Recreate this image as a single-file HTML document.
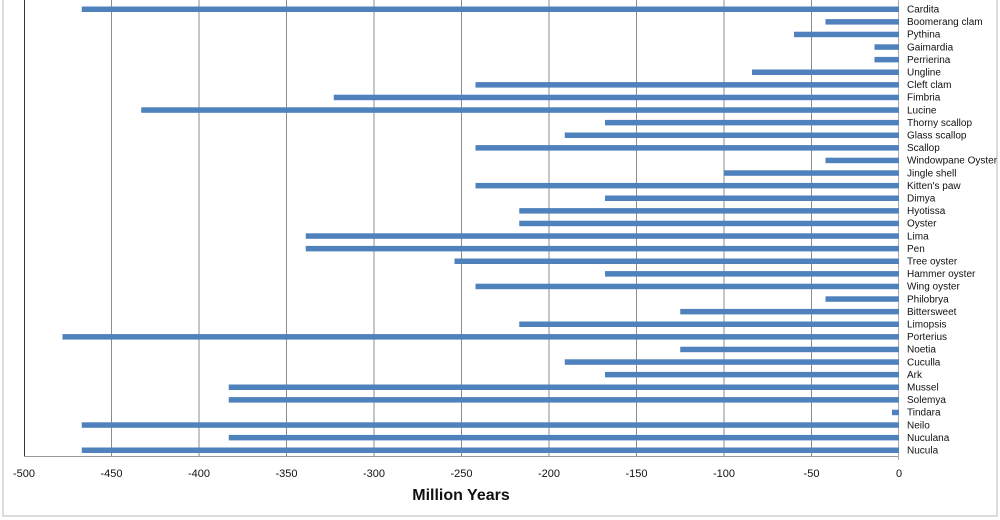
<!DOCTYPE html>
<html><head><meta charset="utf-8"><style>body{margin:0;background:#fff}svg{display:block}</style></head><body>
<svg width="1000" height="520" xmlns="http://www.w3.org/2000/svg" font-family="Liberation Sans, sans-serif">
<rect x="3" y="-2" width="994" height="518" fill="#fff" stroke="#bbb"/>
<g stroke="#8c8c8c" stroke-width="1">
<line x1="111.5" y1="0" x2="111.5" y2="456"/><line x1="199" y1="0" x2="199" y2="456"/><line x1="286.5" y1="0" x2="286.5" y2="456"/><line x1="374" y1="0" x2="374" y2="456"/><line x1="461.5" y1="0" x2="461.5" y2="456"/><line x1="549" y1="0" x2="549" y2="456"/><line x1="636.5" y1="0" x2="636.5" y2="456"/><line x1="724" y1="0" x2="724" y2="456"/><line x1="811.5" y1="0" x2="811.5" y2="456"/>
</g>
<line x1="24.5" y1="0" x2="24.5" y2="456" stroke="#333"/>
<line x1="24" y1="456.5" x2="899" y2="456.5" stroke="#999"/>
<line x1="898.5" y1="0" x2="898.5" y2="460" stroke="#aaa"/>
<g fill="#4f81bd">
<rect x="81.75" y="6.5" width="817.25" height="5.5"/>
<rect x="825.5" y="19.1" width="73.5" height="5.5"/>
<rect x="794" y="31.7" width="105" height="5.5"/>
<rect x="874.5" y="44.3" width="24.5" height="5.5"/>
<rect x="874.5" y="56.9" width="24.5" height="5.5"/>
<rect x="752" y="69.5" width="147" height="5.5"/>
<rect x="475.5" y="82.1" width="423.5" height="5.5"/>
<rect x="333.75" y="94.7" width="565.25" height="5.5"/>
<rect x="141.25" y="107.3" width="757.75" height="5.5"/>
<rect x="605" y="119.9" width="294" height="5.5"/>
<rect x="564.75" y="132.5" width="334.25" height="5.5"/>
<rect x="475.5" y="145.1" width="423.5" height="5.5"/>
<rect x="825.5" y="157.7" width="73.5" height="5.5"/>
<rect x="724" y="170.3" width="175" height="5.5"/>
<rect x="475.5" y="182.9" width="423.5" height="5.5"/>
<rect x="605" y="195.5" width="294" height="5.5"/>
<rect x="519.25" y="208.1" width="379.75" height="5.5"/>
<rect x="519.25" y="220.7" width="379.75" height="5.5"/>
<rect x="305.75" y="233.3" width="593.25" height="5.5"/>
<rect x="305.75" y="245.9" width="593.25" height="5.5"/>
<rect x="454.5" y="258.5" width="444.5" height="5.5"/>
<rect x="605" y="271.1" width="294" height="5.5"/>
<rect x="475.5" y="283.7" width="423.5" height="5.5"/>
<rect x="825.5" y="296.3" width="73.5" height="5.5"/>
<rect x="680.25" y="308.9" width="218.75" height="5.5"/>
<rect x="519.25" y="321.5" width="379.75" height="5.5"/>
<rect x="62.5" y="334.1" width="836.5" height="5.5"/>
<rect x="680.25" y="346.7" width="218.75" height="5.5"/>
<rect x="564.75" y="359.3" width="334.25" height="5.5"/>
<rect x="605" y="371.9" width="294" height="5.5"/>
<rect x="228.75" y="384.5" width="670.25" height="5.5"/>
<rect x="228.75" y="397.1" width="670.25" height="5.5"/>
<rect x="892" y="409.7" width="7" height="5.5"/>
<rect x="81.75" y="422.3" width="817.25" height="5.5"/>
<rect x="228.75" y="434.9" width="670.25" height="5.5"/>
<rect x="81.75" y="447.5" width="817.25" height="5.5"/>
</g>
<g font-size="10" fill="#111">
<text x="907" y="12.5">Cardita</text>
<text x="907" y="25.1">Boomerang clam</text>
<text x="907" y="37.7">Pythina</text>
<text x="907" y="50.3">Gaimardia</text>
<text x="907" y="62.9">Perrierina</text>
<text x="907" y="75.5">Ungline</text>
<text x="907" y="88.1">Cleft clam</text>
<text x="907" y="100.7">Fimbria</text>
<text x="907" y="113.3">Lucine</text>
<text x="907" y="125.9">Thorny scallop</text>
<text x="907" y="138.5">Glass scallop</text>
<text x="907" y="151.1">Scallop</text>
<text x="907" y="163.7">Windowpane Oyster</text>
<text x="907" y="176.3">Jingle shell</text>
<text x="907" y="188.9">Kitten's paw</text>
<text x="907" y="201.5">Dimya</text>
<text x="907" y="214.1">Hyotissa</text>
<text x="907" y="226.7">Oyster</text>
<text x="907" y="239.3">Lima</text>
<text x="907" y="251.9">Pen</text>
<text x="907" y="264.5">Tree oyster</text>
<text x="907" y="277.1">Hammer oyster</text>
<text x="907" y="289.7">Wing oyster</text>
<text x="907" y="302.3">Philobrya</text>
<text x="907" y="314.9">Bittersweet</text>
<text x="907" y="327.5">Limopsis</text>
<text x="907" y="340.1">Porterius</text>
<text x="907" y="352.7">Noetia</text>
<text x="907" y="365.3">Cuculla</text>
<text x="907" y="377.9">Ark</text>
<text x="907" y="390.5">Mussel</text>
<text x="907" y="403.1">Solemya</text>
<text x="907" y="415.7">Tindara</text>
<text x="907" y="428.3">Neilo</text>
<text x="907" y="440.9">Nuculana</text>
<text x="907" y="453.5">Nucula</text>
</g>
<g font-size="11" fill="#111" text-anchor="middle">
<text x="24" y="477">-500</text><text x="111.5" y="477">-450</text><text x="199" y="477">-400</text><text x="286.5" y="477">-350</text><text x="374" y="477">-300</text><text x="461.5" y="477">-250</text><text x="549" y="477">-200</text><text x="636.5" y="477">-150</text><text x="724" y="477">-100</text><text x="811.5" y="477">-50</text><text x="899" y="477">0</text>
</g>
<text x="461" y="500" font-size="16" font-weight="bold" text-anchor="middle" fill="#111">Million Years</text>
</svg>
</body></html>
